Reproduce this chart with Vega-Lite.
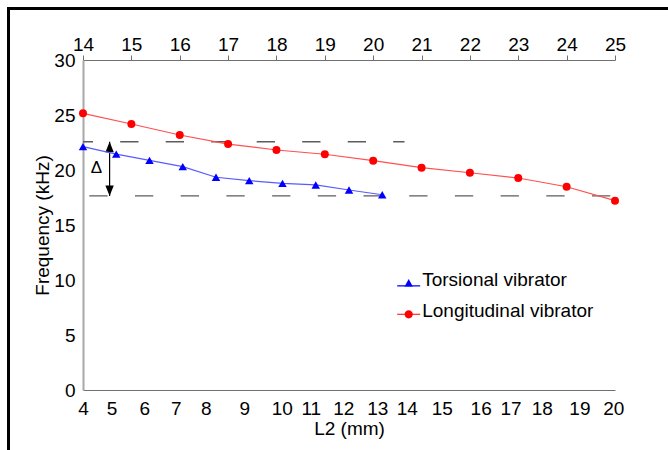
{
  "$schema": "https://vega.github.io/schema/vega-lite/v6.json",
  "width": 660,
  "height": 442,
  "autosize": {"type": "none"},
  "padding": {"left": 8, "top": 8, "right": 0, "bottom": 0},
  "background": "white",
  "config": {
    "view": {"stroke": null},
    "font": "Liberation Sans",
    "axis": {
      "grid": false,
      "labelFont": "Liberation Sans",
      "labelFontSize": 19,
      "labelColor": "black",
      "titleFont": "Liberation Sans",
      "titleFontSize": 19,
      "titleFontWeight": "normal",
      "titleColor": "black",
      "labelFlush": false,
      "labelOverlap": false
    },
    "legend": {
      "labelFont": "Liberation Sans",
      "labelFontSize": 19,
      "labelColor": "black",
      "labelLimit": 400,
      "symbolSize": 529,
      "symbolStrokeWidth": 0,
      "labelOffset": 2,
      "padding": 0,
      "title": null
    }
  },
  "datasets": {
    "torsional": [
      {"L2": 4, "freq": 22.12, "series": "Torsional vibrator"},
      {"L2": 5, "freq": 21.45, "series": "Torsional vibrator"},
      {"L2": 6, "freq": 20.88, "series": "Torsional vibrator"},
      {"L2": 7, "freq": 20.3, "series": "Torsional vibrator"},
      {"L2": 8, "freq": 19.34, "series": "Torsional vibrator"},
      {"L2": 9, "freq": 19.03, "series": "Torsional vibrator"},
      {"L2": 10, "freq": 18.79, "series": "Torsional vibrator"},
      {"L2": 11, "freq": 18.64, "series": "Torsional vibrator"},
      {"L2": 12, "freq": 18.18, "series": "Torsional vibrator"},
      {"L2": 13, "freq": 17.75, "series": "Torsional vibrator"}
    ],
    "longitudinal": [
      {"L2": 14, "freq": 25.15, "series": "Longitudinal vibrator"},
      {"L2": 15, "freq": 24.18, "series": "Longitudinal vibrator"},
      {"L2": 16, "freq": 23.18, "series": "Longitudinal vibrator"},
      {"L2": 17, "freq": 22.36, "series": "Longitudinal vibrator"},
      {"L2": 18, "freq": 21.82, "series": "Longitudinal vibrator"},
      {"L2": 19, "freq": 21.43, "series": "Longitudinal vibrator"},
      {"L2": 20, "freq": 20.85, "series": "Longitudinal vibrator"},
      {"L2": 21, "freq": 20.21, "series": "Longitudinal vibrator"},
      {"L2": 22, "freq": 19.75, "series": "Longitudinal vibrator"},
      {"L2": 23, "freq": 19.27, "series": "Longitudinal vibrator"},
      {"L2": 24, "freq": 18.48, "series": "Longitudinal vibrator"},
      {"L2": 25, "freq": 17.21, "series": "Longitudinal vibrator"}
    ],
    "upperRef": [{"L2": 4, "L2_end": 13.67, "freq": 22.57}],
    "lowerRef": [{"L2": 4, "L2_end": 20, "freq": 17.64}],
    "delta": [{"L2": 4.8, "freq": 17.64, "freq2": 22.57}],
    "deltaTop": [{"L2": 4.8, "freq": 22.57}],
    "deltaBottom": [{"L2": 4.8, "freq": 17.64}],
    "deltaLabel": [{"L2": 4.4, "freq": 20.15, "label": "Δ"}],
    "frame": [{"fx": 0, "fy": 0}]
  },
  "layer": [
    {
      "encoding": {
        "x": {
          "field": "L2",
          "type": "quantitative",
          "scale": {"domain": [4, 20], "range": [75, 607], "nice": false, "zero": false},
          "axis": {
            "orient": "bottom",
            "offset": -60,
            "values": [4, 4.86, 5.84, 6.79, 7.69, 8.85, 9.98, 10.85, 11.83, 12.85, 13.74, 14.79, 15.96, 16.86, 17.8, 18.93, 19.95],
            "labelExpr": "'' + round(datum.value)",
            "ticks": false,
            "domainColor": "#707070",
            "domainWidth": 1.2,
            "labelPadding": 9,
            "title": "L2 (mm)",
            "titlePadding": 1
          }
        },
        "y": {
          "field": "freq",
          "type": "quantitative",
          "scale": {"domain": [0, 30], "range": [382, 52], "nice": false, "zero": false},
          "axis": {
            "orient": "left",
            "offset": -75,
            "values": [0, 5, 10, 15, 20, 25, 30],
            "ticks": false,
            "domainColor": "#a8a8a8",
            "domainWidth": 2,
            "labelPadding": 8,
            "title": "Frequency (kHz)",
            "titlePadding": 1
          }
        }
      },
      "layer": [
        {
          "data": {"name": "upperRef"},
          "mark": {"type": "rule", "color": "#5c5c5c", "strokeWidth": 1.3, "strokeDash": [18.3, 27.2], "strokeDashOffset": 8.3},
          "encoding": {"x2": {"field": "L2_end"}}
        },
        {
          "data": {"name": "lowerRef"},
          "mark": {"type": "rule", "color": "#5c5c5c", "strokeWidth": 1.3, "strokeDash": [18.3, 27.4], "strokeDashOffset": 39.4},
          "encoding": {"x2": {"field": "L2_end"}}
        },
        {
          "data": {"name": "delta"},
          "mark": {"type": "rule", "color": "black", "strokeWidth": 1.2},
          "encoding": {"y2": {"field": "freq2"}}
        },
        {
          "data": {"name": "deltaTop"},
          "mark": {"type": "point", "shape": "M0,-1L0.8,1L-0.8,1Z", "size": 110, "filled": true, "color": "black", "opacity": 1, "yOffset": 5.25}
        },
        {
          "data": {"name": "deltaBottom"},
          "mark": {"type": "point", "shape": "M0,1L0.8,-1L-0.8,-1Z", "size": 110, "filled": true, "color": "black", "opacity": 1, "yOffset": -5.25}
        },
        {
          "data": {"name": "deltaLabel"},
          "mark": {"type": "text", "font": "Liberation Sans", "fontSize": 17, "color": "black", "align": "center", "baseline": "middle"},
          "encoding": {"text": {"field": "label"}}
        },
        {
          "data": {"name": "torsional"},
          "mark": {"type": "line", "color": "#5a5aff", "strokeWidth": 1.2}
        },
        {
          "data": {"name": "torsional"},
          "mark": {"type": "point", "shape": "triangle-up", "size": 72, "filled": true, "opacity": 1},
          "encoding": {
            "color": {
              "field": "series",
              "type": "nominal",
              "scale": {"domain": ["Torsional vibrator"], "range": ["#0000ff"]},
              "legend": {
                "orient": "none",
                "legendX": 389.2,
                "legendY": 260,
                "title": null,
                "symbolType": "M-1,0.5H1V0.6H-1Z M0,-0.04L0.37,0.63L-0.37,0.63Z"
              }
            }
          }
        }
      ]
    },
    {
      "encoding": {
        "x": {
          "field": "L2",
          "type": "quantitative",
          "scale": {"domain": [14, 25], "range": [75, 607], "nice": false, "zero": false},
          "axis": {
            "orient": "top",
            "offset": -52,
            "values": [14, 15, 16, 17, 18, 19, 20, 21, 22, 23, 24, 25],
            "ticks": true,
            "tickSize": 5,
            "tickColor": "#707070",
            "domainColor": "#707070",
            "domainWidth": 1.2,
            "labelPadding": 1,
            "title": null
          }
        },
        "y": {
          "field": "freq",
          "type": "quantitative",
          "scale": {"domain": [0, 30], "range": [382, 52], "nice": false, "zero": false},
          "axis": null
        }
      },
      "layer": [
        {
          "data": {"name": "longitudinal"},
          "mark": {"type": "line", "color": "#ff5050", "strokeWidth": 1.2}
        },
        {
          "data": {"name": "longitudinal"},
          "mark": {"type": "point", "shape": "circle", "size": 64, "filled": true, "opacity": 1},
          "encoding": {
            "fill": {
              "field": "series",
              "type": "nominal",
              "scale": {"domain": ["Longitudinal vibrator"], "range": ["#ff0000"]},
              "legend": {
                "orient": "none",
                "legendX": 389.2,
                "legendY": 291,
                "title": null,
                "symbolType": "M-1,0.28H1V0.38H-1Z M-0.36,0.33A0.36,0.36 0 1,1 0.36,0.33A0.36,0.36 0 1,1 -0.36,0.33Z"
              }
            }
          }
        }
      ]
    },
    {
      "data": {"name": "frame"},
      "mark": {"type": "point", "opacity": 0},
      "encoding": {
        "x": {
          "field": "fx",
          "type": "quantitative",
          "scale": {"domain": [0, 1], "range": [0, 660], "nice": false, "zero": false},
          "axis": {"orient": "top", "offset": 0, "domainColor": "black", "domainWidth": 3, "domainCap": "square", "labels": false, "ticks": false, "title": null}
        },
        "y": {
          "field": "fy",
          "type": "quantitative",
          "scale": {"domain": [0, 1], "range": [442, 0], "nice": false, "zero": false},
          "axis": {"orient": "left", "offset": 0, "domainColor": "black", "domainWidth": 3, "domainCap": "square", "labels": false, "ticks": false, "title": null}
        }
      }
    }
  ],
  "resolve": {"scale": {"x": "independent", "y": "independent", "color": "independent", "fill": "independent"}, "axis": {"x": "independent", "y": "independent"}, "legend": {"color": "independent", "fill": "independent"}}
}
